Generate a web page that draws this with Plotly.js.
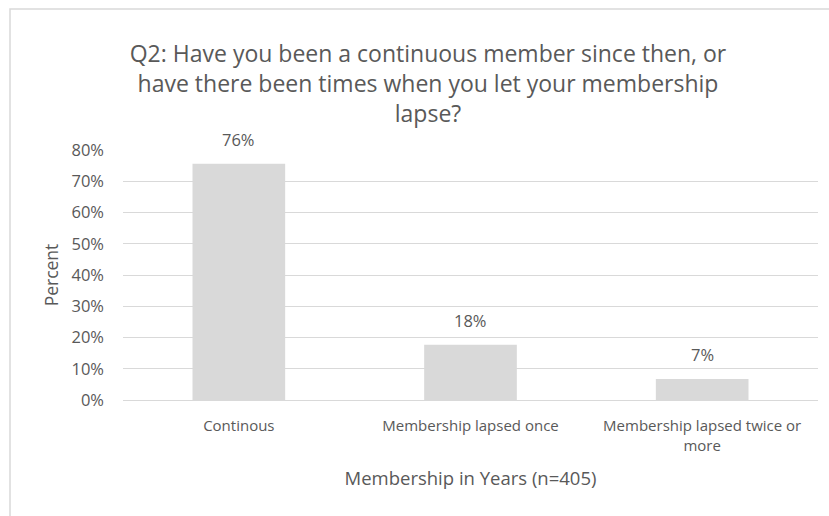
<!DOCTYPE html>
<html>
<head>
<meta charset="utf-8">
<script src="https://cdn.plot.ly/plotly-3.0.1.min.js"></script>
<style>html,body{margin:0;padding:0;background:#fff}#chart{width:829px;height:516px}</style>
</head>
<body>
<div id="chart"></div>
<script>
const categories = ["Continous", "Membership lapsed once", "Membership lapsed twice or<br>more"];
const percentValues = [75.6, 17.7, 6.7];
const valueLabels = ["76%", "18%", "7%"];
const yTickValues = [0, 10, 20, 30, 40, 50, 60, 70, 80];
const yTickLabels = ["0%", "10%", "20%", "30%", "40%", "50%", "60%", "70%", "80%"];

const FONT = "Open Sans, Noto Sans, sans-serif";
const GREY = "#595959";

const trace = {
  type: "bar",
  x: categories,
  y: percentValues,
  marker: {color: "#d9d9d9"},
  width: 0.4,
  hoverinfo: "none"
};

const annotations = categories.map((c, i) => ({
  x: c, y: percentValues[i], xref: "x", yref: "y",
  text: valueLabels[i], showarrow: false,
  yanchor: "bottom", yshift: 11,
  font: {family: FONT, size: 16.5, color: GREY}
}));

const layout = {
  width: 829, height: 516,
  margin: {l: 123, r: 11, t: 150, b: 116, pad: 0},
  paper_bgcolor: "#fff", plot_bgcolor: "#fff",
  font: {family: FONT, color: GREY},
  showlegend: false,
  bargap: 0.6,
  title: {
    text: "Q2: Have you been a continuous member since then, or<br>have there been times when you let your membership<br>lapse?",
    font: {family: FONT, size: 23, color: GREY},
    xref: "container", x: 428/829, xanchor: "center",
    yref: "container", y: 1 - 62/516, yanchor: "middle"
  },
  xaxis: {
    type: "category",
    showgrid: false,
    showline: false,
    zeroline: false,
    ticks: "",
    tickfont: {family: FONT, size: 15, color: GREY},
    ticklabelstandoff: 15,
    title: {text: "Membership in Years (n=405)", font: {family: FONT, size: 18.5, color: GREY}, standoff: 18}
  },
  yaxis: {
    range: [0, 80],
    tickvals: yTickValues,
    ticktext: yTickLabels,
    showgrid: true,
    gridcolor: "#d9d9d9",
    gridwidth: 1,
    zeroline: true,
    zerolinecolor: "#d9d9d9",
    zerolinewidth: 1,
    showline: false,
    ticks: "",
    tickfont: {family: FONT, size: 16.5, color: GREY},
    ticklabelstandoff: 18,
    title: {text: "Percent", font: {family: FONT, size: 17.5, color: GREY}, standoff: 8}
  },
  annotations: annotations,
  shapes: [{
    type: "rect", xref: "paper", yref: "paper",
    x0: (10 - 123) / 695, x1: 1.1,
    y0: -0.6, y1: (400 - 9) / 250,
    line: {color: "#d9d9d9", width: 1.5},
    fillcolor: "rgba(0,0,0,0)", layer: "below"
  }]
};

Plotly.newPlot("chart", [trace], layout, {displayModeBar: false, staticPlot: true});
</script>
</body>
</html>
